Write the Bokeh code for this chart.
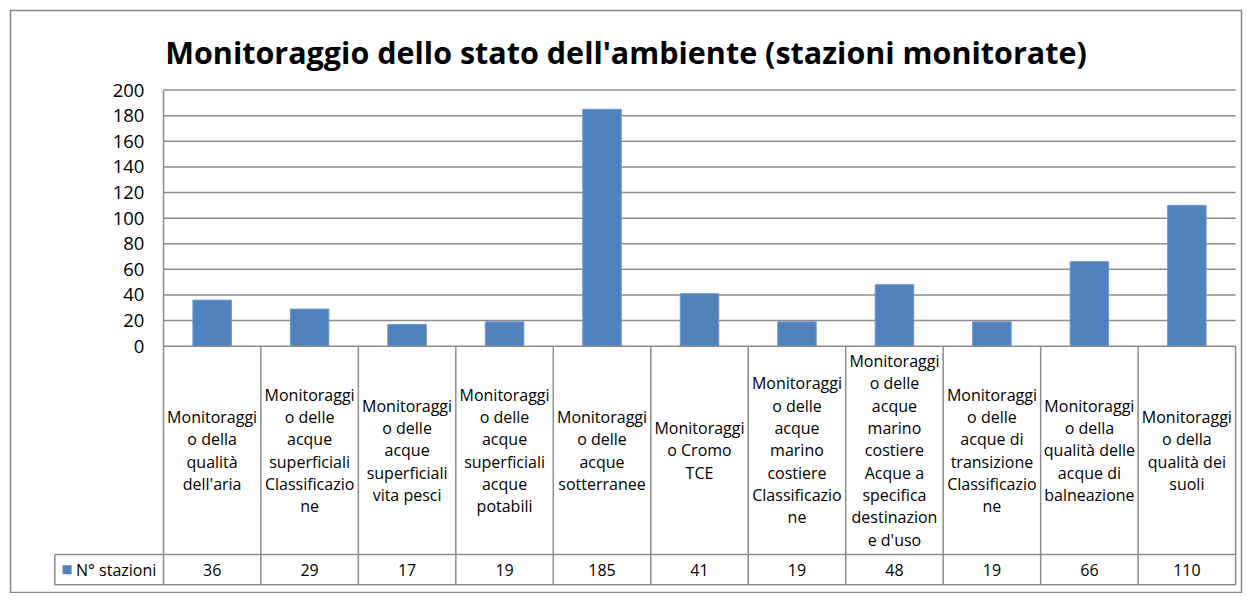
from bokeh.plotting import figure
from bokeh.models import LinearAxis, FixedTicker, Range1d
from bokeh.core.properties import value
from bokeh.embed import file_html
from bokeh.resources import INLINE

# ---------------- data ----------------
title_text = "Monitoraggio dello stato dell'ambiente (stazioni monitorate)"
series_name = "N° stazioni"
categories = [
    "Monitoraggi\no della\nqualità\ndell'aria",
    "Monitoraggi\no delle\nacque\nsuperficiali\nClassificazio\nne",
    "Monitoraggi\no delle\nacque\nsuperficiali\nvita pesci",
    "Monitoraggi\no delle\nacque\nsuperficiali\nacque\npotabili",
    "Monitoraggi\no delle\nacque\nsotterranee",
    "Monitoraggi\no Cromo\nTCE",
    "Monitoraggi\no delle\nacque\nmarino\ncostiere\nClassificazio\nne",
    "Monitoraggi\no delle\nacque\nmarino\ncostiere\nAcque a\nspecifica\ndestinazion\ne d'uso",
    "Monitoraggi\no delle\nacque di\ntransizione\nClassificazio\nne",
    "Monitoraggi\no della\nqualità delle\nacque di\nbalneazione",
    "Monitoraggi\no della\nqualità dei\nsuoli",
]
stations = [36, 29, 17, 19, 185, 41, 19, 48, 19, 66, 110]
y_ticks = [0, 20, 40, 60, 80, 100, 120, 140, 160, 180, 200]

# ---------------- layout (figure pixels) ----------------
W, H = 1243, 593
FRAME_L, FRAME_T, FRAME_R, FRAME_B = 10, 10, 1241, 593
PLOT_L, PLOT_R = 162.9, 1235.1
TOP_Y, ZERO_Y = 89.6, 345.7
ROW1_B, ROW2_B = 554.1, 584.2
LEG_L = 54.3

n = len(categories)
ymax = y_ticks[-1]
u = (PLOT_R - PLOT_L) / n          # px per category
v = (ZERO_Y - TOP_Y) / ymax        # px per unit

def px_x(px):
    return (px - PLOT_L) / u

def px_y(py):
    return (ZERO_Y - py) / v

FONT = "Open Sans"
BLUE = "#4F81BD"
GRID = "#8C8C8C"

p = figure(width=W, height=H, output_backend="svg", toolbar_location=None,
           x_axis_location=None, y_axis_location=None,
           x_range=Range1d(px_x(FRAME_L), px_x(FRAME_R)),
           y_range=Range1d(px_y(FRAME_B), px_y(FRAME_T)),
           min_border_left=FRAME_L, min_border_top=FRAME_T,
           min_border_right=W - FRAME_R, min_border_bottom=H - FRAME_B)
p.grid.visible = False
p.outline_line_color = "#868686"
p.outline_line_width = 1.5
p.background_fill_color = "white"
p.border_fill_color = "white"

# gridlines across the plot area
p.segment(x0=[0] * (len(y_ticks) - 1), x1=[n] * (len(y_ticks) - 1),
          y0=y_ticks[1:], y1=y_ticks[1:], line_color=GRID, line_width=1.5)

# bars
xs = [i + 0.5 for i in range(n)]
p.vbar(x=xs, top=stations, width=38.5 / u, bottom=0,
       fill_color=BLUE, line_color="#6F97CB", line_width=1)

# y axis at x = 0
yax = LinearAxis(ticker=FixedTicker(ticks=y_ticks), fixed_location=0,
                 bounds=(px_y(ROW2_B), ymax))
yax.axis_line_color = GRID
yax.axis_line_width = 1.5
yax.major_tick_line_color = None
yax.minor_tick_line_color = None
yax.major_tick_out = 0
yax.major_tick_in = 0
yax.major_label_standoff = 19
yax.major_label_text_font = FONT
yax.major_label_text_font_size = "18.5px"
yax.major_label_text_color = "black"
p.add_layout(yax, "left")

# data table below the plot
y_r1 = px_y(ROW1_B)
y_r2 = px_y(ROW2_B)
x_leg = px_x(LEG_L)
p.segment(x0=[0, x_leg, x_leg], x1=[n, n, n], y0=[0, y_r1, y_r2], y1=[0, y_r1, y_r2],
          line_color=GRID, line_width=1.5)
p.segment(x0=list(range(1, n + 1)), x1=list(range(1, n + 1)),
          y0=[0] * n, y1=[y_r2] * n, line_color=GRID, line_width=1.5)
p.segment(x0=[x_leg], x1=[x_leg], y0=[y_r1], y1=[y_r2], line_color=GRID, line_width=1.5)

# category labels
p.text(x=xs, y=[y_r1 / 2] * n, text=categories, text_align="center",
       text_baseline="middle", text_font=value(FONT), text_font_size="16px",
       text_line_height=1.014, text_color="black")
# values
p.text(x=xs, y=[(y_r1 + y_r2) / 2] * n, text=[str(s) for s in stations],
       text_align="center", text_baseline="middle", text_font=value(FONT),
       text_font_size="16px", text_color="black")
# legend key
p.scatter(x=[px_x(66.6)], y=[(y_r1 + y_r2) / 2], marker="square", size=9,
          fill_color=BLUE, line_color=None)
p.text(x=[px_x(75.5)], y=[(y_r1 + y_r2) / 2], text=[series_name], text_align="left",
       text_baseline="middle", text_font=value(FONT), text_font_size="16px",
       text_color="black")

# title
p.text(x=[(px_x(FRAME_L) + px_x(FRAME_R)) / 2], y=[px_y(51.5)], text=[title_text],
       text_align="center", text_baseline="middle", text_font=value(FONT),
       text_font_style="bold", text_font_size="30.5px", text_color="black")

open("out.html", "w").write(file_html(p, INLINE))
